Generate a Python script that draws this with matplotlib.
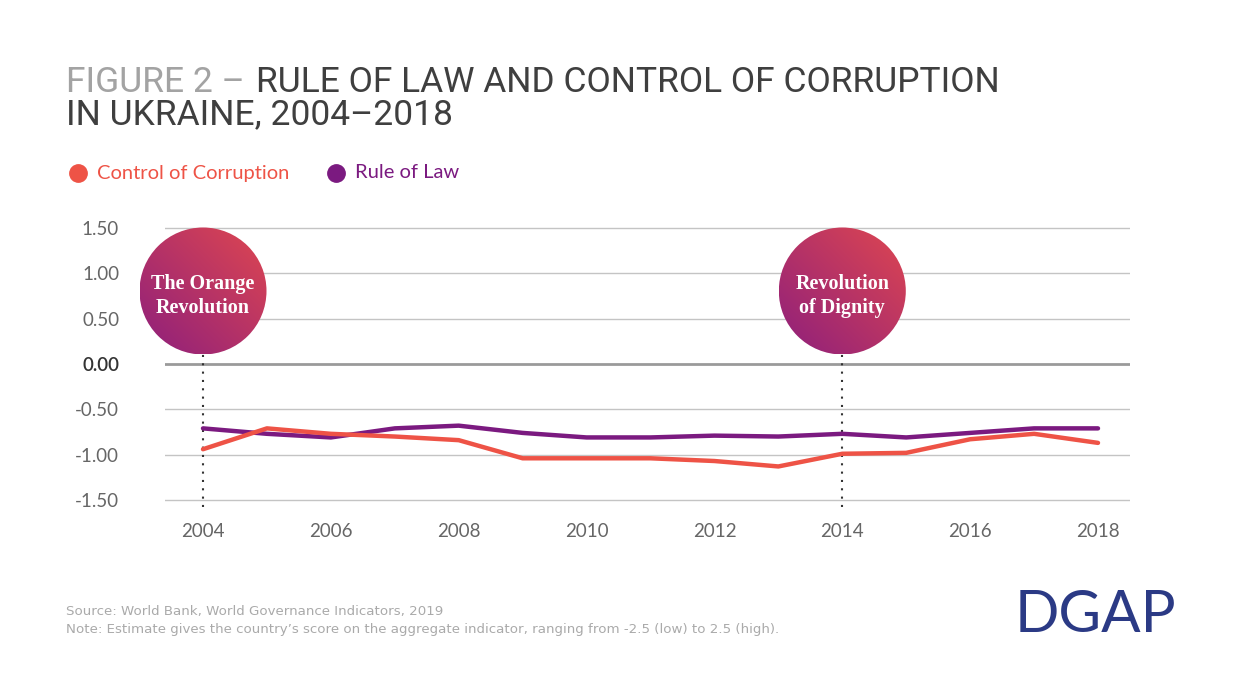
import matplotlib.pyplot as plt
import numpy as np
from matplotlib.patches import Circle
from matplotlib.lines import Line2D

# ---------------------------------------------------------
# data

years = [2004, 2005, 2006, 2007, 2008, 2009, 2010, 2011,
         2012, 2013, 2014, 2015, 2016, 2017, 2018]
corruption = [-0.94, -0.71, -0.77, -0.80, -0.84, -1.04, -1.04, -1.04,
              -1.07, -1.13, -0.99, -0.98, -0.83, -0.77, -0.87]
ruleOfLaw = [-0.71, -0.77, -0.81, -0.71, -0.68, -0.76, -0.81, -0.81,
             -0.79, -0.80, -0.77, -0.81, -0.76, -0.71, -0.71]

yTicks = [1.5, 1.0, 0.5, 0.0, -0.5, -1.0, -1.5]
xTicks = [2004, 2006, 2008, 2010, 2012, 2014, 2016, 2018]

events = [2004, 2014]
eventLabels = ['The Orange\nRevolution', 'Revolution\nof Dignity']

orange = '#ee5346'
purple = '#7b1a80'

W, H = 1242, 699

# ---------------------------------------------------------

fig = plt.figure(figsize=(W / 100, H / 100), dpi=100)
fig.patch.set_facecolor('white')

def fx(px) :
	return px / W

def fy(py) :
	return 1 - py / H

# axes spans a little beyond +-1.5 so the outer gridlines are not clipped
ax = fig.add_axes([fx(165), fy(505), fx(1130) - fx(165), fy(223) - fy(505)])
ax.set_xlim(2004 - 38 / 63.93, 2018 + 32 / 63.93)
ax.set_ylim(-1.5 - 5 / 90.7, 1.5 + 5 / 90.7)

for v in yTicks :
	if v == 0 :
		ax.axhline(v, color='#9a9a9a', lw=2.0, zorder=1)
	else :
		ax.axhline(v, color='#c4c4c4', lw=1.0, zorder=1)

ax.plot(years, ruleOfLaw, color=purple, lw=3.2, solid_capstyle='round', zorder=3)
ax.plot(years, corruption, color=orange, lw=3.2, solid_capstyle='round', zorder=4)

# dotted event lines, running below the axis a little
for ev in events :
	ax.plot([ev, ev], [-1.58, 0.12], color='#333333', lw=1.5,
	        linestyle=(0, (1, 3)), clip_on=False, zorder=2)

for s in ax.spines.values() :
	s.set_visible(False)
ax.set_yticks(yTicks)
ax.set_yticklabels(['%.2f' % v for v in yTicks])
ax.set_xticks(xTicks)
ax.set_xticklabels([str(x) for x in xTicks])
ax.tick_params(length=0, labelsize=13.5, colors='#666666')
ax.tick_params(axis='y', pad=33)
ax.tick_params(axis='x', pad=13)
for lab in ax.get_yticklabels() + ax.get_xticklabels() :
	lab.set_family('Lato')
for lab in ax.get_yticklabels() :
	if lab.get_text() == '0.00' :
		lab.set_color('#333333')
		lab.set_fontweight('semibold')

# gradient circles for the two events
grad = np.linspace(0, 1, 200)
gx, gy = np.meshgrid(grad, grad)
t = (gx + gy) / 2.0  # 0 at lower left, 1 at upper right
c0 = np.array([0x8e, 0x1f, 0x7c]) / 255.0
c1 = np.array([0xdf, 0x47, 0x50]) / 255.0
img = c0[None, None, :] * (1 - t[..., None]) + c1[None, None, :] * t[..., None]

for ev, lab in zip(events, eventLabels) :
	cxPix = 203 + (ev - 2004) * 63.93
	r = 63.5
	cax = fig.add_axes([fx(cxPix - r), fy(291 + r), 2 * r / W, 2 * r / H])
	cax.set_xlim(0, 1)
	cax.set_ylim(0, 1)
	cax.axis('off')
	im = cax.imshow(img, extent=[0, 1, 0, 1], origin='lower', aspect='auto')
	circ = Circle((0.5, 0.5), 0.5, transform=cax.transData)
	im.set_clip_path(circ)
	cax.text(0.5, 0.46, lab, ha='center', va='center', color='white',
	         fontsize=14.5, fontweight='bold', family='Liberation Serif',
	         linespacing=1.3)

# title (two colours on the first line)
t1 = fig.text(fx(66), fy(92), 'FIGURE 2 \u2013 ', color='#a3a3a3', fontsize=25.5,
              family='Roboto', va='baseline')
fig.canvas.draw()
bb = t1.get_window_extent(renderer=fig.canvas.get_renderer())
fig.text(bb.x1 / W + 0.002, fy(92), 'RULE OF LAW AND CONTROL OF CORRUPTION', color='#3f3f3f',
         fontsize=25.5, family='Roboto', va='baseline')
fig.text(fx(66), fy(124), 'IN UKRAINE, 2004\u20132018', color='#3f3f3f',
         fontsize=25.5, family='Roboto', va='baseline')

# legend
for xp, col, name in [(78, orange, 'Control of Corruption'), (336, purple, 'Rule of Law')] :
	fig.add_artist(Line2D([fx(xp)], [fy(173)], marker='o', markersize=12.5,
	                      color=col, linestyle='none', transform=fig.transFigure))
	fig.text(fx(xp + 19), fy(173), name, color=col, fontsize=14.5,
	         va='center', family='Lato')

# source
fig.text(fx(66), fy(612), 'Source: World Bank, World Governance Indicators, 2019',
         color='#aaaaaa', fontsize=9.6, va='center')
fig.text(fx(66), fy(629), "Note: Estimate gives the country\u2019s score on the aggregate indicator, "
         "ranging from -2.5 (low) to 2.5 (high).", color='#aaaaaa', fontsize=9.6, va='center')

# logo
fig.text(fx(1176), fy(632), 'DGAP', color='#2b3a85', fontsize=42, ha='right',
         va='baseline', family='Lato')

fig.savefig('out.png', dpi=100)
